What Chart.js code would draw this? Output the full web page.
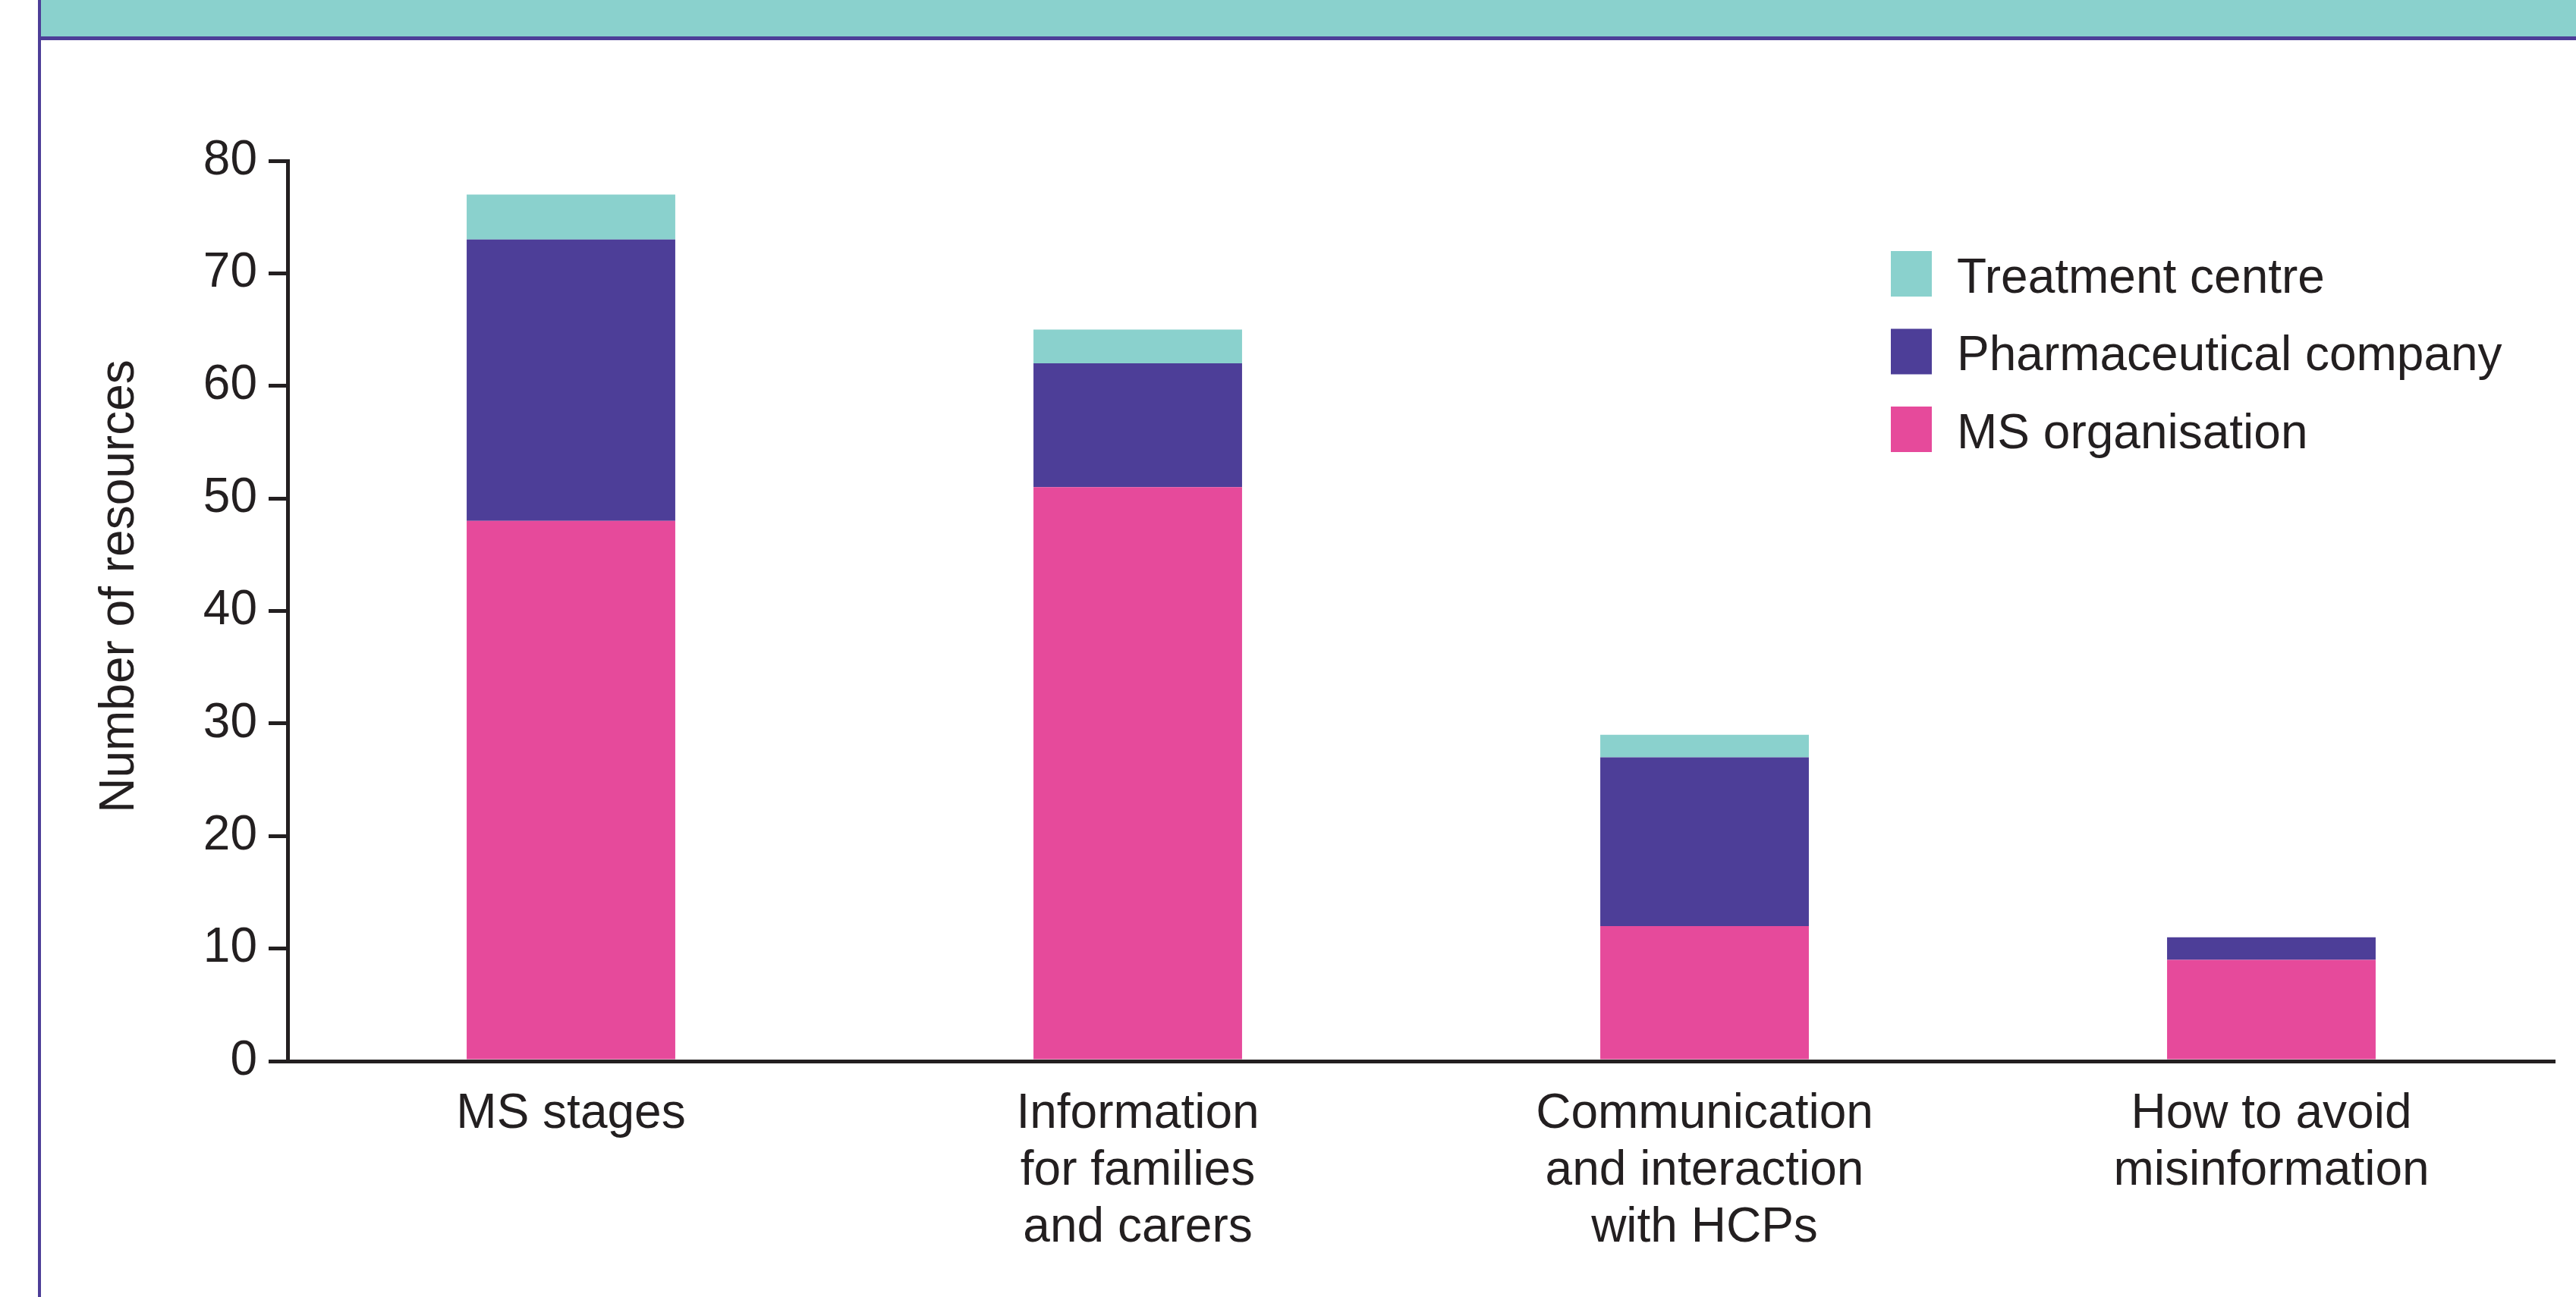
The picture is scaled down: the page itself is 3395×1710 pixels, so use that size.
<!DOCTYPE html>
<html>
<head>
<meta charset="utf-8">
<script src="https://cdn.jsdelivr.net/npm/chart.js@4"></script>
<style>
  html, body { margin: 0; padding: 0; background: #fff; }
  body { width: 3395px; height: 1710px; position: relative; overflow: hidden; }
  #chart { position: absolute; left: 0; top: 0; }
  .banner { position: absolute; left: 52px; top: 0; width: 3343px; height: 48px; background: #8ad1cd; }
  .banner-line { position: absolute; left: 52px; top: 48px; width: 3343px; height: 5px; background: #4d3e98; }
  .side-line { position: absolute; left: 50px; top: 0; width: 4px; height: 1710px; background: #4d3e98; }
</style>
</head>
<body>
<canvas id="chart" width="3395" height="1710"></canvas>
<div class="banner"></div>
<div class="banner-line"></div>
<div class="side-line"></div>
<script>
// categories (multi-line x labels)
const categories = [
    ['MS stages'],
    ['Information', 'for families', 'and carers'],
    ['Communication', 'and interaction', 'with HCPs'],
    ['How to avoid', 'misinformation']
];

// number of resources by source
const msOrganisation = [48, 51, 12, 9];
const pharmaCompany = [25, 11, 15, 2];
const treatmentCentre = [4, 3, 2, 0];

const yMin = 0;
const yMax = 80;
const yStep = 10;
const yTitle = 'Number of resources';

const inkColor = '#231f20';
const fontFamily = '"Liberation Sans", Arial, Helvetica, sans-serif';

function getColor(source) {
    if (source === 'MS organisation') {
        return '#e64a9b'
    }
    if (source === 'Pharmaceutical company') {
        return '#4d3e98'
    }
    if (source === 'Treatment centre') {
        return '#8ad1cd'
    }
}

// legend drawn inside the plot, top entry = top of the stack
const sideLegend = {
    id: 'sideLegend',
    afterDraw(chart) {
        const ctx = chart.ctx;
        const sets = chart.data.datasets.slice().reverse();
        ctx.save();
        ctx.font = '64px ' + fontFamily;
        ctx.textBaseline = 'middle';
        ctx.textAlign = 'left';
        sets.forEach((ds, i) => {
            const cy = 361 + i * 102.5;
            ctx.fillStyle = ds.backgroundColor;
            ctx.fillRect(2492, cy - 30, 54, 60);
            ctx.fillStyle = inkColor;
            ctx.fillText(ds.label, 2579, cy + 7);
        });
        ctx.restore();
    }
};

// y title sits a little above the middle of the axis, so place it by hand
const yAxisTitle = {
    id: 'yAxisTitle',
    afterDraw(chart) {
        const ctx = chart.ctx;
        ctx.save();
        ctx.translate(158, 773);
        ctx.rotate(-Math.PI / 2);
        ctx.font = '64px ' + fontFamily;
        ctx.fillStyle = inkColor;
        ctx.textAlign = 'center';
        ctx.textBaseline = 'middle';
        ctx.fillText(yTitle, 0, 0);
        ctx.restore();
    }
};

const sources = [
    { label: 'MS organisation', values: msOrganisation },
    { label: 'Pharmaceutical company', values: pharmaCompany },
    { label: 'Treatment centre', values: treatmentCentre }
];

new Chart(document.querySelector('#chart').getContext('2d'), {
    type: 'bar',
    data: {
        labels: categories,
        datasets: sources.map(src => ({
            label: src.label,
            data: src.values,
            backgroundColor: getColor(src.label),
            borderWidth: 0,
            barPercentage: 0.368,
            categoryPercentage: 1
        }))
    },
    options: {
        responsive: false,
        animation: false,
        layout: { padding: { left: 60, top: 212, right: 28, bottom: 0 } },
        plugins: {
            legend: { display: false },
            tooltip: { enabled: false }
        },
        scales: {
            x: {
                stacked: true,
                grid: { display: false },
                border: { display: true, color: inkColor, width: 5 },
                ticks: {
                    color: inkColor,
                    font: { family: fontFamily, size: 64, lineHeight: 1.17 },
                    padding: 25,
                    maxRotation: 0,
                    autoSkip: false
                },
                afterFit: scale => { scale.height = 311; }
            },
            y: {
                stacked: true,
                min: yMin,
                max: yMax,
                grid: {
                    drawOnChartArea: false,
                    drawTicks: true,
                    tickLength: 25,
                    lineWidth: 5,
                    color: inkColor
                },
                border: { display: true, color: inkColor, width: 5 },
                ticks: {
                    stepSize: yStep,
                    color: inkColor,
                    font: { family: fontFamily, size: 64 },
                    padding: 15
                },
                afterFit: scale => { scale.width = 319; }
            }
        }
    },
    plugins: [sideLegend, yAxisTitle]
});
</script>
</body>
</html>
